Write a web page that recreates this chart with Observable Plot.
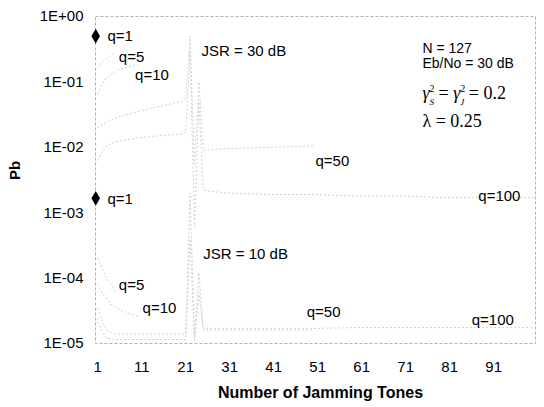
<!DOCTYPE html>
<html>
<head>
<meta charset="utf-8">
<script src="https://cdn.jsdelivr.net/npm/d3@7"></script>
<script src="https://cdn.jsdelivr.net/npm/@observablehq/plot@0.6"></script>
<style>
  html, body { margin: 0; padding: 0; background: #fff; }
  #chart { width: 544px; height: 407px; }
</style>
</head>
<body>
<div id="chart"></div>
<script>
// ---- axis ticks ----
const xTicks = [1, 11, 21, 31, 41, 51, 61, 71, 81, 91];
const xTickLabels = ["1", "11", "21", "31", "41", "51", "61", "71", "81", "91"];
const yTicks = [1e-5, 1e-4, 1e-3, 1e-2, 1e-1, 1];
const yTickLabels = ["1E-05", "1E-04", "1E-03", "1E-02", "1E-01", "1E+00"];

// ---- JSR = 30 dB curves (number of jamming tones J, bit error probability Pb) ----
const jsr30_q1_J = [1];
const jsr30_q1_Pb = [0.5];
const jsr30_q5_J = [1, 2, 3, 4, 5];
const jsr30_q5_Pb = [0.166, 0.2, 0.23, 0.255, 0.275];
const jsr30_q10_J = [1, 2, 3, 4, 6, 8, 10];
const jsr30_q10_Pb = [0.066, 0.09, 0.115, 0.13, 0.155, 0.17, 0.185];
const jsr30_q50_J = [1, 2, 3, 5, 10, 15, 20, 21, 22, 23, 24, 25, 30, 40, 50];
const jsr30_q50_Pb = [0.02, 0.022, 0.024, 0.028, 0.035, 0.042, 0.05, 0.055, 0.5, 0.0055, 0.1, 0.009, 0.0095, 0.01, 0.0105];
const jsr30_q100_J = [1, 2, 3, 5, 10, 15, 20, 21, 22, 23, 24, 25, 30, 40, 50, 60, 70, 80, 90, 100];
const jsr30_q100_Pb = [0.0063, 0.0085, 0.0105, 0.012, 0.014, 0.015, 0.016, 0.017, 0.3, 0.0006, 0.05, 0.0022, 0.002, 0.0019, 0.0019, 0.0018, 0.0018, 0.0017, 0.0017, 0.0017];

// ---- JSR = 10 dB curves ----
const jsr10_q1_J = [1];
const jsr10_q1_Pb = [0.00166];
const jsr10_q5_J = [1, 2, 3, 4, 5];
const jsr10_q5_Pb = [2e-4, 1.4e-4, 1e-4, 8e-5, 6.5e-5];
const jsr10_q10_J = [1, 2, 3, 4, 6, 8, 10];
const jsr10_q10_Pb = [8e-5, 6e-5, 4.8e-5, 4e-5, 3.3e-5, 2.9e-5, 2.6e-5];
const jsr10_q50_J = [1, 2, 3, 5, 10, 15, 20, 21, 22, 23, 24, 25, 30, 40, 50];
const jsr10_q50_Pb = [3.4e-5, 2.2e-5, 1.6e-5, 1.4e-5, 1.4e-5, 1.4e-5, 1.4e-5, 1.4e-5, 2e-3, 1.2e-5, 1.2e-4, 1.6e-5, 1.6e-5, 1.6e-5, 1.6e-5];
const jsr10_q100_J = [1, 2, 3, 5, 10, 15, 20, 21, 22, 23, 24, 25, 30, 40, 50, 60, 70, 80, 90, 100];
const jsr10_q100_Pb = [2.4e-5, 1.5e-5, 1.2e-5, 1.15e-5, 1.15e-5, 1.15e-5, 1.15e-5, 1.15e-5, 4e-4, 1.1e-5, 6e-5, 1.7e-5, 1.7e-5, 1.7e-5, 1.7e-5, 1.75e-5, 1.75e-5, 1.75e-5, 1.75e-5, 1.75e-5];

// ---- annotation texts ----
const labelTexts = ["q=1", "q=5", "q=10", "JSR = 30 dB", "q=50", "q=100",
                    "q=1", "q=5", "q=10", "JSR = 10 dB", "q=50", "q=100"];
const labelJ  = [3.2, 5.8, 9.5, 24.6, 50.5, 87.5, 3.2, 5.8, 11.2, 25, 48.5, 86];
const labelPb = [0.5, 0.24, 0.125, 0.29, 0.0061, 0.0018, 0.00163, 7.8e-5, 3.5e-5, 2.3e-4, 3.0e-5, 2.3e-5];
const paramTexts = ["N = 127", "Eb/No = 30 dB"];
const paramJ = [74.8, 74.8];
const paramPb = [0.324, 0.191];
const mathTexts = ["γs2 = γJ2 = 0.2", "λ = 0.25"];
const mathJ = [74.8, 74.8];
const mathPb = [0.0665, 0.0248];
const xTitle = "Number of Jamming Tones";
const yTitle = "Pb";

// build tables
function rows(J, Pb, s) { return J.map((j, i) => ({J: j, Pb: Pb[i], s})); }
const curves = [
  ...rows(jsr30_q5_J, jsr30_q5_Pb, "30-5"),
  ...rows(jsr30_q10_J, jsr30_q10_Pb, "30-10"),
  ...rows(jsr30_q50_J, jsr30_q50_Pb, "30-50"),
  ...rows(jsr30_q100_J, jsr30_q100_Pb, "30-100"),
  ...rows(jsr10_q5_J, jsr10_q5_Pb, "10-5"),
  ...rows(jsr10_q10_J, jsr10_q10_Pb, "10-10"),
  ...rows(jsr10_q50_J, jsr10_q50_Pb, "10-50"),
  ...rows(jsr10_q100_J, jsr10_q100_Pb, "10-100")
];
const points = [...rows(jsr30_q1_J, jsr30_q1_Pb, "30-1"), ...rows(jsr10_q1_J, jsr10_q1_Pb, "10-1")];
const labels = labelTexts.map((t, i) => ({t, J: labelJ[i], Pb: labelPb[i]}));
const params = paramTexts.map((t, i) => ({t, J: paramJ[i], Pb: paramPb[i]}));
const maths = mathTexts.map((t, i) => ({t, J: mathJ[i], Pb: mathPb[i]}));

const font = "'Liberation Sans', Arial, Helvetica, sans-serif";
const serif = "'Liberation Serif', 'Times New Roman', serif";

const plot = Plot.plot({
  width: 544,
  height: 407,
  marginLeft: 95,
  marginRight: 9,
  marginTop: 16,
  marginBottom: 64,
  style: {fontFamily: font, fontSize: "15px", background: "#fff", color: "#000", overflow: "visible"},
  x: {domain: [0.5, 100.5]},
  y: {type: "log", domain: [1e-5, 1]},
  marks: [
    Plot.frame({stroke: "#b0b0b0", strokeDasharray: "3,2", strokeWidth: 1}),
    Plot.axisX({ticks: xTicks, tickFormat: d => xTickLabels[xTicks.indexOf(d)], tickSize: 0, tickPadding: 18, label: null, fontSize: 15}),
    Plot.axisY({ticks: yTicks, tickFormat: d => yTickLabels[yTicks.indexOf(d)], tickSize: 0, tickPadding: 12, label: null, fontSize: 15}),
    Plot.line(curves, {x: "J", y: "Pb", z: "s", stroke: "#cdcdcd", strokeWidth: 1, strokeDasharray: "1,3", curve: "linear"}),
    Plot.dot(points, {x: "J", y: "Pb", symbol: "diamond", r: 4.5, fill: "#000", stroke: "none", dx: -2}),
    Plot.text(labels, {x: "J", y: "Pb", text: "t", textAnchor: "start", fontSize: 15, fill: "#000"}),
    Plot.text(params, {x: "J", y: "Pb", text: "t", textAnchor: "start", fontSize: 14, fill: "#000"}),
    Plot.text(maths, {x: "J", y: "Pb", text: "t", textAnchor: "start", fontSize: 18, fontFamily: serif, fill: "#000"}),
    Plot.text([xTitle], {frameAnchor: "bottom", dy: 54, dx: 5, fontWeight: "bold", fontSize: 16, fill: "#000"}),
    Plot.text([yTitle], {frameAnchor: "left", dx: -80, rotate: -90, fontWeight: "bold", fontSize: 15, fill: "#000"})
  ]
});

// typeset the gamma expression with stacked super/subscripts
const svgNS = "http://www.w3.org/2000/svg";
d3.select(plot).selectAll("text").filter(function() { return this.textContent === mathTexts[0]; })
  .each(function() {
    const node = this;
    node.textContent = "";
    const add = (t, attrs) => {
      const ts = document.createElementNS(svgNS, "tspan");
      ts.textContent = t;
      for (const k in attrs) ts.setAttribute(k, attrs[k]);
      node.appendChild(ts);
    };
    add("γ", {"font-style": "italic"});
    add("2", {"font-size": "10", dy: "-7"});
    add("S", {"font-size": "9", dx: "-5", dy: "13", "font-style": "italic"});
    add(" = ", {dy: "-6"});
    add("γ", {"font-style": "italic"});
    add("2", {"font-size": "10", dy: "-7"});
    add("J", {"font-size": "9", dx: "-5", dy: "13", "font-style": "italic"});
    add(" = 0.2", {dy: "-6"});
  });

document.getElementById("chart").appendChild(plot);
</script>
</body>
</html>
